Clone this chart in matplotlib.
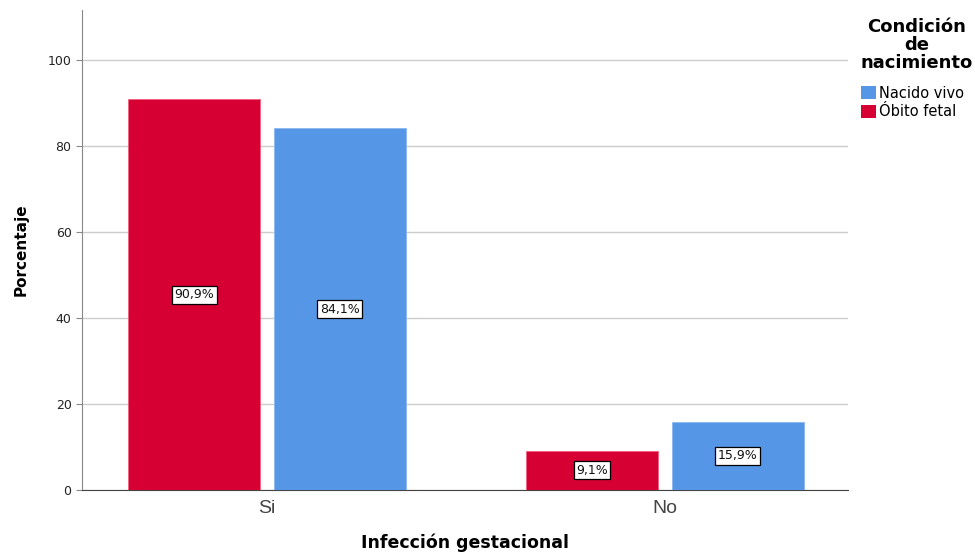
import matplotlib
matplotlib.use("Agg")
import matplotlib.pyplot as plt
import numpy as np

plt.rcParams['font.family'] = ['DejaVu Sans']

categorias = ["Si", "No"]
series = ["Óbito fetal", "Nacido vivo"]
obito_fetal = [90.9, 9.1]
nacido_vivo = [84.1, 15.9]
colores = {"Óbito fetal": "#D70033", "Nacido vivo": "#5596E6"}

X = np.arange(len(categorias))
ancho = 0.332
desp = 0.183

fig = plt.figure(figsize=(9.75, 5.53), dpi=100)
ax = fig.add_axes([0.0841, 0.1139, 0.7856, 0.8680])

b1 = ax.bar(X - desp, obito_fetal, ancho, color=colores["Óbito fetal"],
            edgecolor="#F06080", linewidth=0.6, label="Óbito fetal", zorder=3)
b2 = ax.bar(X + desp, nacido_vivo, ancho, color=colores["Nacido vivo"],
            edgecolor="#8AB8F0", linewidth=0.6, label="Nacido vivo", zorder=3)

# etiquetas de porcentaje en el centro de cada barra
for barras, vals in ((b1, obito_fetal), (b2, nacido_vivo)):
    for b, v in zip(barras, vals):
        ax.text(b.get_x() + b.get_width() / 2, v / 2, ('%.1f%%' % v).replace('.', ','),
                ha='center', va='center', fontsize=9, color='#111111', zorder=4,
                bbox=dict(boxstyle='square,pad=0.2', facecolor='white',
                          edgecolor='black', linewidth=0.9))

ax.set_xlim(-0.465, 1.46)
ax.set_ylim(0, 111.6)
ax.set_yticks([0, 20, 40, 60, 80, 100])
ax.set_xticks(X)
ax.set_xticklabels(categorias, fontsize=14, color='#444444',
                   family=['Liberation Sans', 'DejaVu Sans'])
ax.tick_params(axis='y', labelsize=9, length=4, color='#888888', labelcolor='#222222')
ax.tick_params(axis='x', length=0, pad=7)
ax.yaxis.grid(True, color='#CCCCCC', linewidth=1, zorder=0)

for s in ('top', 'right'):
    ax.spines[s].set_visible(False)
ax.spines['left'].set_color('#888888')
ax.spines['bottom'].set_color('#444444')

ax.set_ylabel('Porcentaje', fontsize=11, fontweight='bold', labelpad=14)
ax.set_xlabel('Infección gestacional', fontsize=12.5, fontweight='bold', labelpad=12)

# titulo de la leyenda aparte para controlar el espacio hasta las entradas
fig.text(0.9405, 0.968, "Condición\nde\nnacimiento", ha='center', va='top',
         fontsize=13, fontweight='bold', linespacing=1.0)
handles = [b2, b1]
leg = fig.legend(handles, ["Nacido vivo", "Óbito fetal"],
                 loc='upper left', bbox_to_anchor=(0.883, 0.845), frameon=False,
                 fontsize=10.5, handlelength=1.0, handleheight=1.0, handletextpad=0.25,
                 borderaxespad=0, borderpad=0, labelspacing=0.25)
for h in leg.legend_handles:
    h.set_edgecolor('none')

fig.savefig('out.png', dpi=100)
